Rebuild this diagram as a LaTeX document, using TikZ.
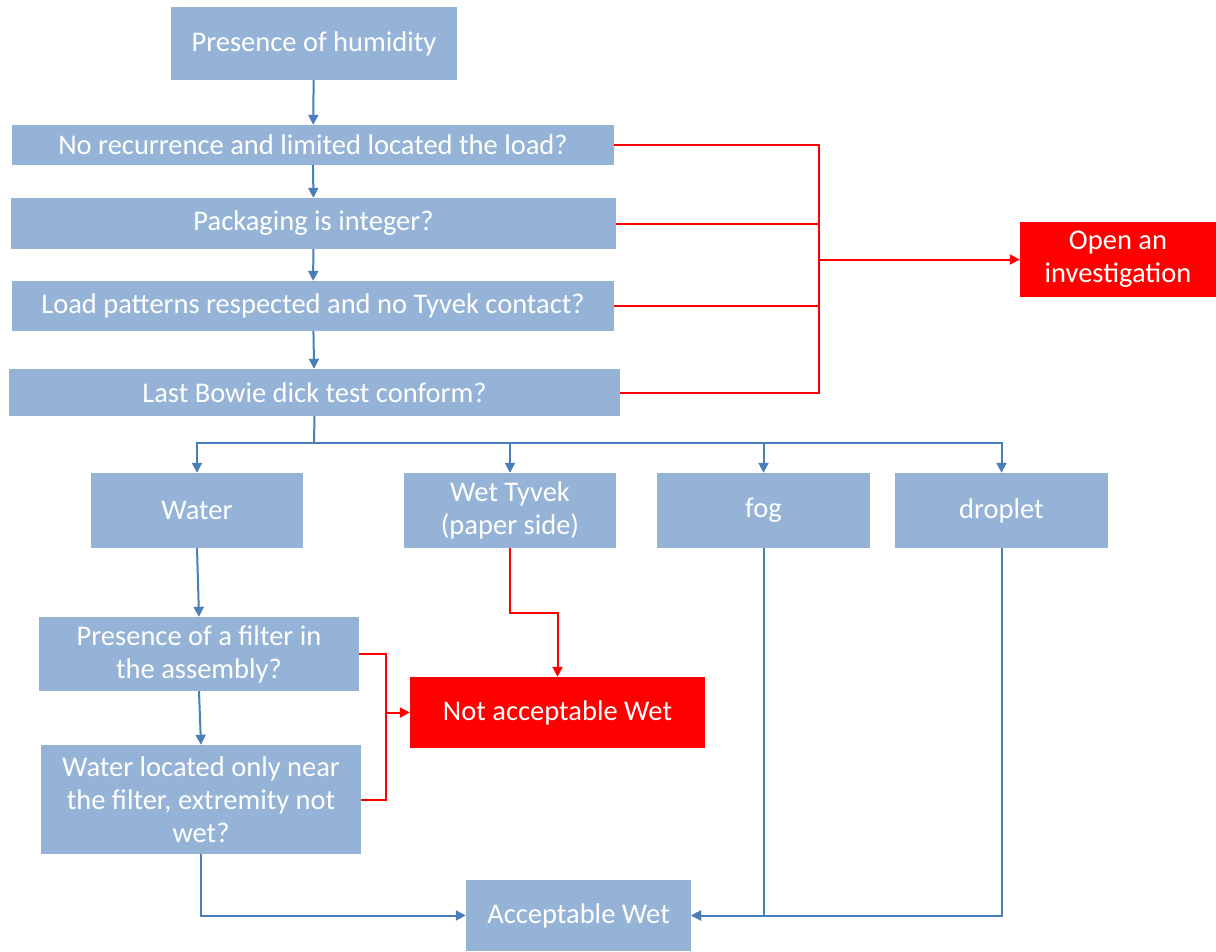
\documentclass[tikz,border=0pt]{standalone}
\usepackage{fontspec}
\setmainfont{Carlito}
\usetikzlibrary{arrows.meta}
\definecolor{boxblue}{HTML}{95B3D7}
\definecolor{lineblue}{HTML}{4A7EBB}
\definecolor{alertred}{HTML}{FF0000}
\tikzset{
  stepbox/.style={fill=boxblue, draw=none, text=white, inner sep=0pt, align=center,
    font=\fontsize{28.5}{33}\selectfont},
  redbox/.style={stepbox, fill=alertred},
  bluearrow/.style={draw=lineblue, line width=2pt, -{Triangle[length=10pt,width=10pt]}},
  blueline/.style={draw=lineblue, line width=2pt},
  redarrow/.style={draw=alertred, line width=2pt, -{Triangle[length=10pt,width=10pt]}},
  redline/.style={draw=alertred, line width=2pt},
}
\begin{document}
\begin{tikzpicture}[x=1pt,y=-1pt]
\useasboundingbox (0,0) rectangle (1216,951);
\node[stepbox, minimum width=286pt, minimum height=73pt] (hum) at (314,43.5) {Presence of humidity};
\node[stepbox, minimum width=602pt, minimum height=40pt] (q1) at (313,145) {No recurrence and limited located the load?};
\node[stepbox, minimum width=605pt, minimum height=51pt] (q2) at (313.5,223.5) {Packaging is integer?};
\node[stepbox, minimum width=602pt, minimum height=50pt] (q3) at (313,306) {Load patterns respected and no Tyvek contact?};
\node[stepbox, minimum width=611pt, minimum height=47pt] (q4) at (314.5,392.5) {Last Bowie dick test conform?};
\node[redbox, minimum width=196pt, minimum height=75pt] (inv) at (1118,259.5) {Open an\\investigation};
\node[stepbox, minimum width=212pt, minimum height=75pt] (water) at (197,510.5) {Water};
\node[stepbox, minimum width=212pt, minimum height=75pt] (tyvek) at (510,510.5) {Wet Tyvek\\(paper side)};
\node[stepbox, minimum width=213pt, minimum height=75pt] (fog) at (763.5,510.5) {fog};
\node[stepbox, minimum width=213pt, minimum height=75pt] (drop) at (1001.5,510.5) {droplet};
\node[stepbox, minimum width=320pt, minimum height=74pt] (filt) at (199,654) {Presence of a filter in\\the assembly?};
\node[stepbox, minimum width=320pt, minimum height=109pt] (loc) at (201,799.5) {Water located only near\\the filter, extremity not\\wet?};
\node[redbox, minimum width=295pt, minimum height=71pt] (nacc) at (557.5,712.5) {Not acceptable Wet};
\node[stepbox, minimum width=225pt, minimum height=71pt] (acc) at (578.5,915.5) {Acceptable Wet};

\coordinate (bus) at (314,443);
\coordinate (vj) at (819,259.5);
\coordinate (tk) at (510,613);
\coordinate (rj) at (386,712.5);

\draw[bluearrow] (hum) -- (q1);
\draw[bluearrow] (q1) -- (q2);
\draw[bluearrow] (q2) -- (q3);
\draw[bluearrow] (q3) -- (q4);
\draw[blueline] (q4.south) -- (bus);
\draw[bluearrow] (bus) -| (water.north);
\draw[bluearrow] (bus) -| (tyvek.north);
\draw[bluearrow] (bus) -| (fog.north);
\draw[bluearrow] (bus) -| (drop.north);
\draw[bluearrow] (water.south) -- (filt.north);
\draw[bluearrow] (filt.south) -- (loc.north);
\draw[bluearrow] (loc.south) |- (acc.west);
\draw[bluearrow] (fog.south) |- (acc.east);
\draw[bluearrow] (drop.south) |- (acc.east);

\draw[redline] (q1.east) -| (vj);
\draw[redline] (q2.east) -| (vj);
\draw[redline] (q3.east) -| (vj);
\draw[redline] (q4.east) -| (vj);
\draw[redarrow] (vj) -- (inv.west);
\draw[redarrow] (tyvek.south) -- (tk) -| (nacc.north);
\draw[redline] (filt.east) -| (rj);
\draw[redline] (loc.east) -| (rj);
\draw[redarrow] (rj) -- (nacc.west);
\end{tikzpicture}
\end{document}
